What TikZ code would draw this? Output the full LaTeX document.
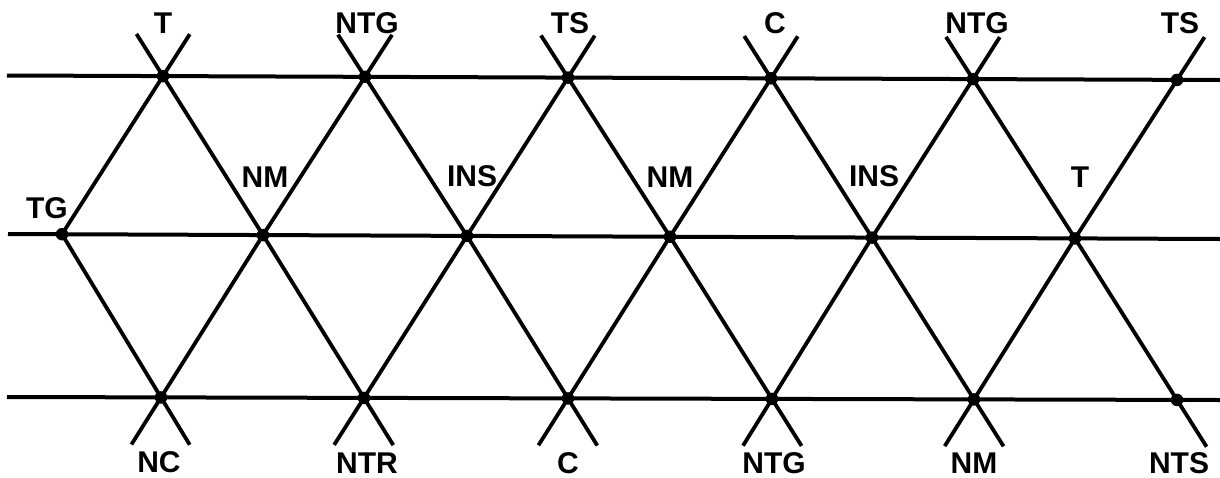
\documentclass[tikz,border=0pt]{standalone}
\usepackage{fontspec}
\setmainfont{Liberation Sans}
\usetikzlibrary{calc}
\begin{document}
\begin{tikzpicture}[x=1pt,y=-1pt,
  rail/.style={line width=4pt},
  edge/.style={line width=3.8pt},
  dot/.style={circle,fill=black,inner sep=0pt,minimum size=12.5pt},
  lbl/.style={anchor=base,inner sep=0pt,font=\fontsize{30}{32}\selectfont\bfseries}]
\useasboundingbox (0,0) rectangle (1220,477);
% rail end points
\coordinate (L1) at (7,75.5);   \coordinate (R1) at (1220,80);
\coordinate (L2) at (8,234);    \coordinate (R2) at (1220,239);
\coordinate (L3) at (7,397);    \coordinate (R3) at (1220,400);
% junctions: top, middle, bottom rows
\foreach \i/\x/\y in {1/163/76.1,2/365/76.8,3/568/77.6,4/771/78.3,5/973/79.1,6/1177/79.9}
  \coordinate (t\i) at (\x,\y);
\foreach \i/\x/\y in {1/62/234.2,2/263/235.1,3/467/235.9,4/670/236.7,5/872/237.6,6/1075/238.4}
  \coordinate (m\i) at (\x,\y);
\foreach \i/\x/\y in {1/161/397.4,2/364/397.9,3/568/398.4,4/772/398.9,5/974/399.4,6/1177/399.9}
  \coordinate (b\i) at (\x,\y);
% rails
\draw[rail] (L1) -- (R1);
\draw[rail] (L2) -- (R2);
\draw[rail] (L3) -- (R3);
% diagonals, each running a little past its outer junction
\foreach \i [evaluate=\i as \j using int(\i+1)] in {1,...,5}{
  \draw[edge] (m\i) -- (t\i) -- ($(m\i)!1.265!(t\i)$);
  \draw[edge] (m\j) -- (t\i) -- ($(m\j)!1.265!(t\i)$);
  \draw[edge] (m\i) -- (b\i) -- ($(m\i)!1.29!(b\i)$);
  \draw[edge] (m\j) -- (b\i) -- ($(m\j)!1.29!(b\i)$);
}
\draw[edge] (m6) -- (t6) -- ($(m6)!1.27!(t6)$);
\draw[edge] (m6) -- (b6) -- ($(m6)!1.29!(b6)$);
% junction dots
\foreach \n in {t1,t2,t3,t4,t5,t6,m1,m2,m3,m4,m5,m6,b1,b2,b3,b4,b5,b6}
  \node[dot] (d\n) at (\n) {};
% top labels
\node[lbl] (lt1) at (163,33) {T};
\node[lbl] (lt2) at (367,33) {NTG};
\node[lbl] (lt3) at (570,33) {TS};
\node[lbl] (lt4) at (775,33) {C};
\node[lbl] (lt5) at (977,33) {NTG};
\node[lbl] (lt6) at (1180,33) {TS};
% middle labels
\node[lbl] (lm1) at (47,218) {TG};
\node[lbl] (lm2) at (265,187) {NM};
\node[lbl] (lm3) at (472,186) {INS};
\node[lbl] (lm4) at (670,187) {NM};
\node[lbl] (lm5) at (874,186) {INS};
\node[lbl] (lm6) at (1080,187) {T};
% bottom labels
\node[lbl] (lb1) at (159,472) {NC};
\node[lbl] (lb2) at (367,473) {NTR};
\node[lbl] (lb3) at (568,473) {C};
\node[lbl] (lb4) at (774,473) {NTG};
\node[lbl] (lb5) at (974,473) {NM};
\node[lbl] (lb6) at (1179,473) {NTS};
\end{tikzpicture}
\end{document}
